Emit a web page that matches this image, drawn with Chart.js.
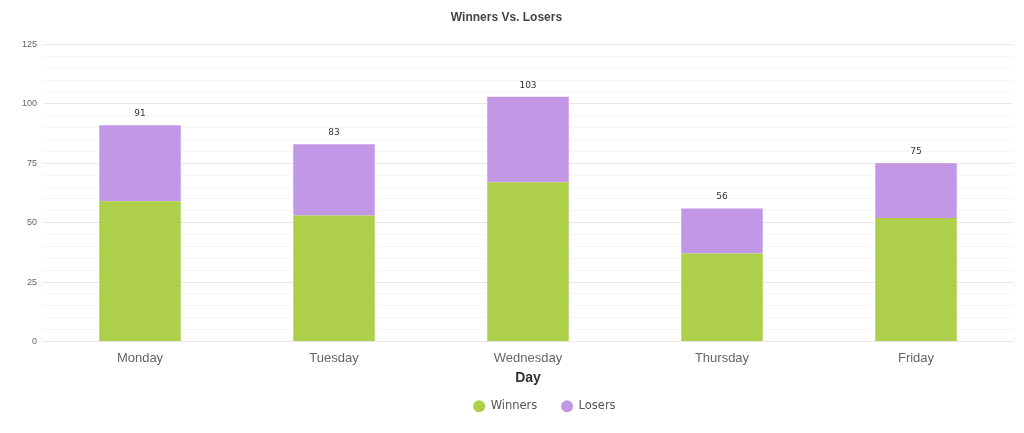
<!DOCTYPE html>
<html>
<head>
<meta charset="utf-8">
<script src="https://cdn.jsdelivr.net/npm/chart.js@4.4.0/dist/chart.umd.min.js"></script>
<style>
  html, body { margin: 0; padding: 0; background: #fff; }
  #wrap { width: 1024px; height: 433px; }
</style>
</head>
<body>
<div id="wrap"><canvas id="js--chart--days"></canvas></div>
<script>
const days = ['Monday', 'Tuesday', 'Wednesday', 'Thursday', 'Friday'];
const winners = [59, 53, 67, 37, 52];
const losers = [32, 30, 36, 19, 23];
const yTicks = [0, 25, 50, 75, 100, 125];

// totals boven elke gestapelde balk
const totalLabels = {
  id: 'totalLabels',
  afterDatasetsDraw(chart) {
    const c = chart.ctx;
    const meta = chart.getDatasetMeta(1);
    c.save();
    c.font = '9px "DejaVu Sans"';
    c.fillStyle = '#333';
    c.textAlign = 'center';
    c.textBaseline = 'middle';
    meta.data.forEach((bar, i) => {
      c.fillText(winners[i] + losers[i], bar.x, bar.y - 11.5);
    });
    c.restore();
  }
};

// legenda iets naar rechts, zoals in het origineel
const shiftLegend = {
  id: 'shiftLegend',
  afterLayout(chart) {
    chart.legend.left += 38;
    chart.legend.right += 38;
    chart.legend.top += 1;
    chart.legend.bottom += 1;
  }
};

const ctx = document.getElementById('js--chart--days');

if (ctx) {
  new Chart(ctx, {
    type: 'bar',
    data: {
      labels: days,
      datasets: [{
        label: 'Winners',
        data: winners,
        backgroundColor: '#aecf4a',
        borderWidth: 0
      }, {
        label: 'Losers',
        data: losers,
        backgroundColor: '#c197e6',
        borderWidth: 0
      }]
    },
    options: {
      responsive: true,
      maintainAspectRatio: false,
      animation: false,
      layout: { padding: { left: 0, right: 11, top: 0, bottom: 12 } },
      datasets: {
        bar: { categoryPercentage: 1, barPercentage: 0.42 }
      },
      scales: {
        x: {
          stacked: true,
          grid: { display: false },
          border: { display: false },
          afterFit: scale => { scale.height = 34; },
          ticks: {
            color: '#666',
            font: { family: '"Liberation Sans", Arial', size: 13 },
            padding: 1
          },
          title: {
            display: true,
            text: 'Day',
            color: '#333',
            font: { family: '"Liberation Sans", Arial', size: 14, weight: 'bold' },
            padding: { top: 0, bottom: -11.5 }
          }
        },
        y: {
          stacked: true,
          min: 0,
          max: 125,
          border: { display: false },
          afterFit: scale => { scale.width = 43; },
          grid: {
            drawTicks: false,
            color: c => (c.tick.value % 25 === 0 ? '#e8e8e8' : '#f6f6f6')
          },
          ticks: {
            stepSize: 5,
            autoSkip: false,
            padding: 6,
            color: '#666',
            font: { family: '"Liberation Sans", Arial', size: 9 },
            callback: v => (yTicks.includes(v) ? v : '')
          }
        }
      },
      plugins: {
        title: {
          display: true,
          text: 'Winners Vs. Losers',
          color: '#444',
          font: { family: '"Liberation Sans", Arial', size: 12, weight: 'bold' },
          padding: { top: 10, bottom: 20 }
        },
        legend: {
          position: 'bottom',
          labels: {
            usePointStyle: true,
            pointStyle: 'circle',
            boxWidth: 18,
            boxHeight: 8.5,
            padding: 24,
            color: '#555',
            font: { family: '"DejaVu Sans"', size: 11.5 }
          }
        },
        tooltip: { enabled: false }
      }
    },
    plugins: [totalLabels, shiftLegend]
  });
}
</script>
</body>
</html>
